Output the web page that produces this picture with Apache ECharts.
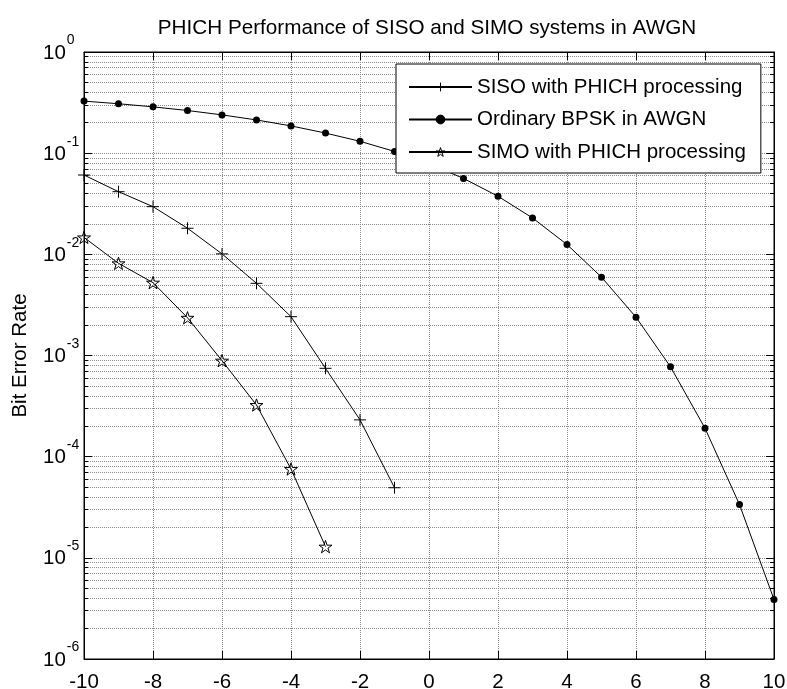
<!DOCTYPE html>
<html>
<head>
<meta charset="utf-8">
<script src="https://cdn.jsdelivr.net/npm/echarts@6/dist/echarts.min.js"></script>
<style>
  html, body { margin: 0; padding: 0; background: #fff; }
  #chart { width: 787px; height: 689px; }
</style>
</head>
<body>
<div id="chart"></div>
<script>
// Eb/N0 in dB
const snrDb = [-10, -9, -8, -7, -6, -5, -4, -3, -2, -1, 0, 1, 2, 3, 4, 5, 6, 7, 8, 9, 10];
// Ordinary BPSK in AWGN
const bpskBer = [0.327, 0.308, 0.287, 0.264, 0.239, 0.213, 0.186, 0.158, 0.131, 0.104, 0.0786,
                 0.0563, 0.0375, 0.0229, 0.0125, 0.00595, 0.00239, 7.73e-4, 1.91e-4, 3.36e-5, 3.87e-6];
// SISO with PHICH processing
const sisoSnr = [-10, -9, -8, -7, -6, -5, -4, -3, -2, -1];
const sisoBer = [0.0608, 0.0416, 0.0296, 0.0181, 0.0101, 0.00517, 0.00242, 7.47e-4, 2.31e-4, 4.93e-5];
// SIMO with PHICH processing
const simoSnr = [-10, -9, -8, -7, -6, -5, -4, -3];
const simoBer = [0.0147, 0.00815, 0.00525, 0.00236, 8.89e-4, 3.24e-4, 7.55e-5, 1.29e-5];

// Axis ranges and ticks
const xMin = -10, xMax = 10, xStep = 2;
const yMin = 1e-6, yMax = 1;
const minorTicks = [];
for (let e = -6; e < 0; e++) {
  for (let k = 2; k <= 9; k++) minorTicks.push(+(k * Math.pow(10, e)).toPrecision(3));
}

const FONT = '"Liberation Sans", Arial, sans-serif';
const gridLine = { color: '#8a8a8a', width: 1, type: [1, 1] };
const plusPath = 'path://M0,5H10M5,0V10';
const starPath = 'path://M50,0L61.23,34.55L97.55,34.55L68.17,55.9L79.39,90.45L50,69.1L20.61,90.45L31.83,55.9L2.45,34.55L38.77,34.55Z';

const pairs = (xs, ys) => xs.map((x, i) => [x, ys[i]]);

function logAxis(extra) {
  return Object.assign({
    type: 'log', logBase: 10, min: yMin, max: yMax,
    gridIndex: 0,
    axisLine: { show: true, onZero: false, lineStyle: { color: '#000', width: 1 } },
    axisLabel: { show: false },
    splitLine: { show: false },
    minorTick: { show: false },
    axisPointer: { show: false }
  }, extra);
}

const chart = echarts.init(document.getElementById('chart'), null, { renderer: 'canvas' });
chart.setOption({
  animation: false,
  backgroundColor: '#fff',
  title: {
    text: 'PHICH Performance of SISO and SIMO systems in AWGN',
    left: 422, top: 13, textAlign: 'center',
    textStyle: { fontFamily: FONT, fontSize: 20.7, fontWeight: 'normal', color: '#000' }
  },
  grid: {
    left: 84, top: 52, width: 690, height: 607,
    show: true, borderColor: '#000', borderWidth: 1, backgroundColor: '#fff',
    containLabel: false, outerBoundsMode: 'none'
  },
  legend: {
    orient: 'vertical', left: 396, top: 64,
    padding: [12, 15, 10, 12], itemGap: 10.5,
    itemWidth: 63, itemHeight: 11,
    backgroundColor: '#fff', borderColor: '#000', borderWidth: 1, borderRadius: 0,
    selectedMode: false,
    itemStyle: { borderWidth: 1 },
    textStyle: { fontFamily: FONT, fontSize: 20.5, lineHeight: 22, color: '#000' },
    data: ['SISO with PHICH processing', 'Ordinary BPSK in AWGN', 'SIMO with PHICH processing']
  },
  xAxis: [
    {
      type: 'value', min: xMin, max: xMax, interval: xStep, position: 'bottom',
      axisLine: { show: true, onZero: false, lineStyle: { color: '#000', width: 1 } },
      axisTick: { show: true, inside: true, length: 8, lineStyle: { color: '#000' } },
      axisLabel: { margin: 13, fontFamily: FONT, fontSize: 20.5, color: '#000' },
      splitLine: { show: true, lineStyle: gridLine }
    },
    {
      type: 'value', min: xMin, max: xMax, interval: xStep, position: 'top',
      axisLine: { show: true, onZero: false, lineStyle: { color: '#000', width: 1 } },
      axisTick: { show: true, inside: true, length: 8, lineStyle: { color: '#000' } },
      axisLabel: { show: false },
      splitLine: { show: false }
    }
  ],
  yAxis: [
    logAxis({
      position: 'left', interval: 1,
      name: 'Bit Error Rate', nameLocation: 'middle', nameGap: 53,
      nameTextStyle: { fontFamily: FONT, fontSize: 20.5, color: '#000' },
      axisTick: { show: true, inside: true, length: 8, lineStyle: { color: '#000' } },
      splitLine: { show: true, lineStyle: gridLine },
      axisLabel: {
        show: true, align: 'left', margin: 41, color: '#000',
        formatter: v => '{b|10}{s|' + Math.round(Math.log10(v)) + '}',
        rich: {
          b: { fontFamily: FONT, fontSize: 20.5, color: '#000', verticalAlign: 'bottom', padding: [0, 0, 7, 0] },
          s: { fontFamily: FONT, fontSize: 14, color: '#000', verticalAlign: 'top', padding: [0, 0, 23, 1] }
        }
      }
    }),
    logAxis({
      position: 'left',
      axisLine: { show: false, onZero: false },
      axisTick: { show: true, inside: true, length: 4, customValues: minorTicks, lineStyle: { color: '#000' } },
      splitLine: { show: true, lineStyle: gridLine }
    }),
    logAxis({
      position: 'right', interval: 1,
      axisTick: { show: true, inside: true, length: 8, lineStyle: { color: '#000' } }
    }),
    logAxis({
      position: 'right',
      axisLine: { show: false, onZero: false },
      axisTick: { show: true, inside: true, length: 4, customValues: minorTicks, lineStyle: { color: '#000' } }
    })
  ],
  series: [
    {
      name: 'SISO with PHICH processing', type: 'line',
      data: pairs(sisoSnr, sisoBer),
      symbol: plusPath, symbolSize: 12,
      itemStyle: { color: 'transparent', borderColor: '#000', borderWidth: 1 },
      lineStyle: { color: '#000', width: 1 },
      emphasis: { disabled: true }, z: 3
    },
    {
      name: 'Ordinary BPSK in AWGN', type: 'line',
      data: pairs(snrDb, bpskBer),
      symbol: 'circle', symbolSize: 7,
      itemStyle: { color: '#000', borderColor: '#000', borderWidth: 0 },
      lineStyle: { color: '#000', width: 1 },
      emphasis: { disabled: true }, z: 3
    },
    {
      name: 'SIMO with PHICH processing', type: 'line',
      data: pairs(simoSnr, simoBer),
      symbol: starPath, symbolSize: 13, symbolKeepAspect: true,
      itemStyle: { color: 'transparent', borderColor: '#000', borderWidth: 1 },
      lineStyle: { color: '#000', width: 1 },
      emphasis: { disabled: true }, z: 3
    }
  ]
});
</script>
</body>
</html>
